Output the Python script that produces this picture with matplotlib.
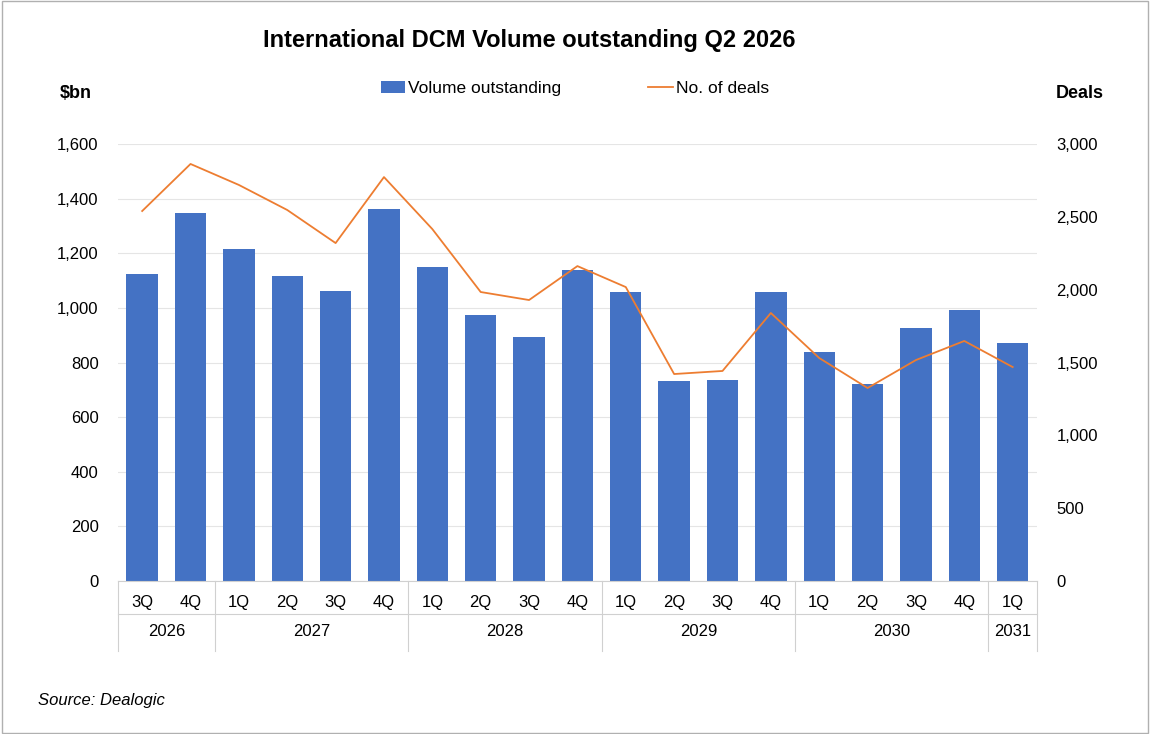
import matplotlib
matplotlib.use("Agg")
import matplotlib.pyplot as plt
from matplotlib.patches import Rectangle

quarters = ["3Q","4Q","1Q","2Q","3Q","4Q","1Q","2Q","3Q","4Q","1Q","2Q","3Q","4Q","1Q","2Q","3Q","4Q","1Q"]
years = ["2026","2027","2028","2029","2030","2031"]
year_counts = [2,4,4,4,4,1]
volume = [1125,1347,1216,1117,1062,1362,1150,974,893,1139,1058,732,736,1058,838,721,926,992,871]
deals = [2540,2863,2719,2547,2320,2773,2416,1984,1929,2162,2018,1421,1442,1840,1531,1325,1517,1648,1469]

plt.rcParams['font.family'] = ['Liberation Sans', 'DejaVu Sans']
fig = plt.figure(figsize=(11.5,7.34), dpi=100)
fig.patches.append(Rectangle((0.002,0.002),0.996,0.996, transform=fig.transFigure, fill=False, edgecolor='#b0b0b0', lw=1))
ax = fig.add_axes([0.1026,0.2084,0.799,0.5954])
x = list(range(len(quarters)))
ax.bar(x, volume, width=0.65, color='#4472C4', label='Volume outstanding', zorder=2)
ax.set_ylim(0,1600); ax.set_xlim(-0.5,len(x)-0.5)
ax.set_yticks(range(0,1601,200))
ax.set_yticklabels([f"{v:,}" for v in range(0,1601,200)], fontsize=12)
ax.grid(axis='y', color='#e5e5e5', lw=0.8, zorder=0)
for s in ['top','right','left']: ax.spines[s].set_visible(False)
ax.spines['bottom'].set_color('#d0d0d0')
ax.tick_params(axis='y', length=0, pad=14)
ax.set_xticks(x); ax.set_xticklabels(quarters, fontsize=12)
ax.tick_params(axis='x', length=0, pad=10)
ax2 = ax.twinx()
ax2.plot(x, deals, color='#ED7D31', lw=1.3, label='No. of deals')
ax2.set_ylim(0,3000); ax2.set_yticks(range(0,3001,500))
ax2.set_yticklabels([f"{v:,}" for v in range(0,3001,500)], fontsize=12)
ax2.tick_params(axis='y', length=0, pad=14)
for s in ax2.spines.values(): s.set_visible(False)
# separators and year labels
tr = ax.get_xaxis_transform()
pos = -0.5
ax.plot([pos,pos],[0,-0.16], transform=tr, color='#d0d0d0', lw=0.8, clip_on=False)
for yl, c in zip(years, year_counts):
    ax.text(pos + c/2, -0.115, yl, transform=tr, ha='center', va='center', fontsize=12)
    pos += c
    ax.plot([pos,pos],[0,-0.16], transform=tr, color='#d0d0d0', lw=0.8, clip_on=False)
ax.plot([-0.5,len(x)-0.5],[-0.075,-0.075], transform=tr, color='#d0d0d0', lw=0.8, clip_on=False)
fig.text(0.46,0.945,"International DCM Volume outstanding Q2 2026", ha='center', va='center', fontsize=17, fontweight='bold')
fig.text(0.052,0.872,"$bn", fontsize=13, fontweight='bold', va='center')
fig.text(0.918,0.872,"Deals", fontsize=13, fontweight='bold', va='center')
fig.text(0.033,0.045,"Source: Dealogic", fontsize=12, style='italic', va='center')
h1,l1 = ax.get_legend_handles_labels(); h2,l2 = ax2.get_legend_handles_labels()
fig.legend(h1+h2, l1+l2, loc='center', bbox_to_anchor=(0.5,0.879), ncol=2, frameon=False, fontsize=12.5, columnspacing=5, handlelength=1.4, handletextpad=0.2)
fig.savefig("out.png", dpi=100)
